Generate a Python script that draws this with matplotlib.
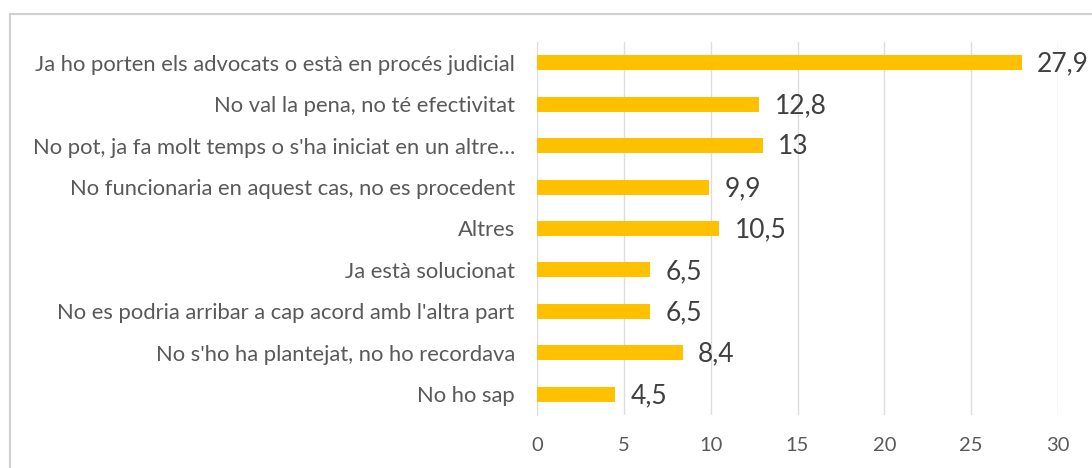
import matplotlib
matplotlib.use('Agg')
import matplotlib.pyplot as plt
from matplotlib.lines import Line2D

categories = [
    "Ja ho porten els advocats o està en procés judicial",
    "No val la pena, no té efectivitat",
    "No pot, ja fa molt temps o s'ha iniciat en un altre…",
    "No funcionaria en aquest cas, no es procedent",
    "Altres",
    "Ja està solucionat",
    "No es podria arribar a cap acord amb l'altra part",
    "No s'ho ha plantejat, no ho recordava",
    "No ho sap",
]
values = [27.9, 12.8, 13, 9.9, 10.5, 6.5, 6.5, 8.4, 4.5]
value_labels = ["27,9", "12,8", "13", "9,9", "10,5", "6,5", "6,5", "8,4", "4,5"]
xticks = [0, 5, 10, 15, 20, 25, 30]

plt.rcParams['font.family'] = ['Lato', 'DejaVu Sans']

fig = plt.figure(figsize=(10.92, 4.68), dpi=100)
ax = fig.add_axes([537 / 1092, 1 - 415 / 468, (1058 - 537) / 1092, (415 - 42) / 468])

pos = list(range(len(categories)))
ax.barh(pos, values, height=0.36, color='#FFC000', zorder=3)
ax.set_ylim(len(categories) - 0.5, -0.5)
ax.set_xlim(0, 30)
ax.set_xticks(xticks)
ax.set_xticklabels([str(t) for t in xticks])
ax.set_yticks(pos)
ax.set_yticklabels(categories)

ax.grid(axis='x', color='#DDDDDD', linewidth=1, zorder=0)
for s in ['top', 'right', 'bottom']:
    ax.spines[s].set_visible(False)
ax.spines['left'].set_color('#DDDDDD')
ax.tick_params(axis='both', length=0, colors='#595959')
ax.tick_params(axis='y', labelsize=15.8, pad=16)
ax.tick_params(axis='x', labelsize=14.5, pad=16)

for p, v, lab in zip(pos, values, value_labels):
    ax.annotate(lab, (v, p), xytext=(11, -1), textcoords='offset points',
                ha='left', va='center', fontsize=19, color='#404040',
                annotation_clip=False)

# chart border (cropped on the right and bottom)
fig.add_artist(Line2D([10 / 1092, 10 / 1092], [0, 1 - 14 / 468], color='#D0D0D0', lw=1.5))
fig.add_artist(Line2D([10 / 1092, 1], [1 - 14 / 468, 1 - 14 / 468], color='#D0D0D0', lw=1.5))

fig.savefig('out.png', dpi=100)
